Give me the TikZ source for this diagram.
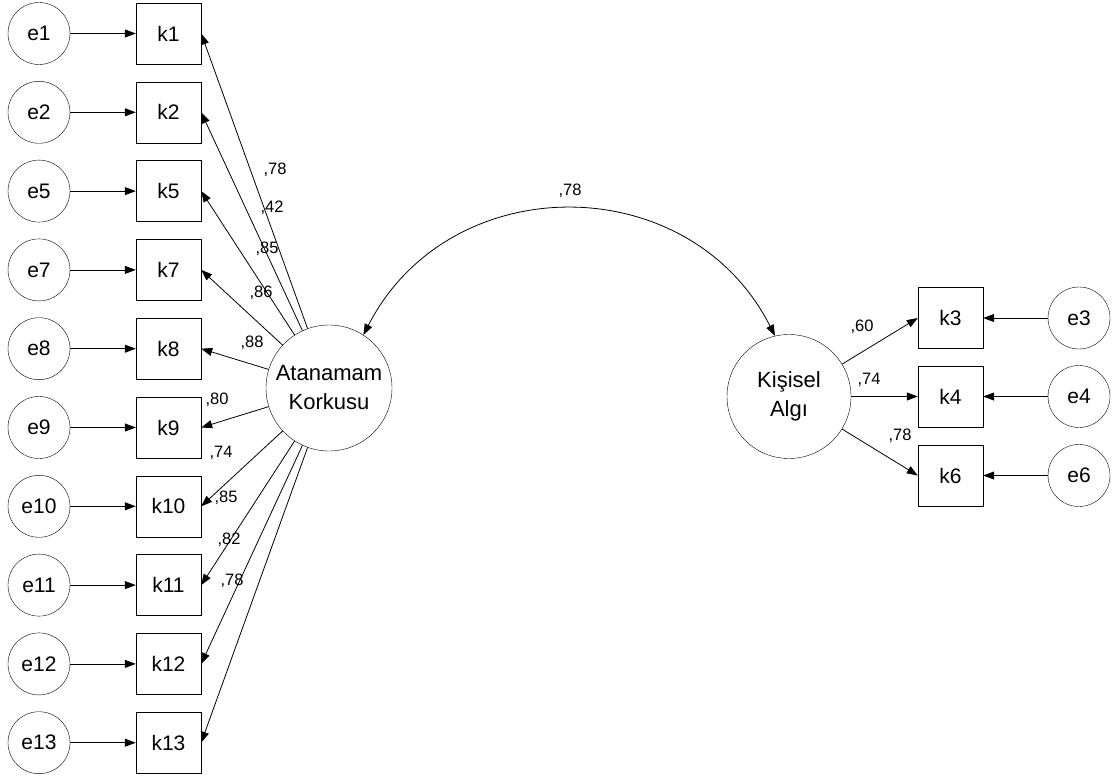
\documentclass[tikz,border=0pt]{standalone}
\usepackage{fontspec}
\setmainfont{Liberation Sans}
\usepackage{tikz}
\usetikzlibrary{arrows.meta}

\tikzset{
    errnode/.style={shape=circle, draw=black, minimum size=62pt, inner sep=0pt, font=\fontsize{21}{25}\selectfont},
    obsnode/.style={shape=rectangle, draw=black, minimum width=65pt, minimum height=61pt, inner sep=0pt, font=\fontsize{21}{25}\selectfont},
    latnode/.style={shape=circle, draw=black, minimum size=126pt, inner sep=0pt, align=center, font=\fontsize{22}{29}\selectfont},
    loadlbl/.style={inner sep=0pt, font=\fontsize{16.5}{18}\selectfont},
    reg/.style={line width=0.8pt, -{Triangle[length=11pt,width=8pt]}},
    cov/.style={line width=0.8pt, {Triangle[length=11pt,width=8pt]}-{Triangle[length=11pt,width=8pt]}}
}

\begin{document}
\begin{tikzpicture}[x=1pt, y=1pt]
            \useasboundingbox (0,0) rectangle (1113,-778);

            % left indicators
            \node[errnode] (e1) at (39, -33.5) {e1};
            \node[errnode] (e2) at (39, -112.3) {e2};
            \node[errnode] (e5) at (39, -191.1) {e5};
            \node[errnode] (e7) at (39, -269.9) {e7};
            \node[errnode] (e8) at (39, -348.7) {e8};
            \node[errnode] (e9) at (39, -427.5) {e9};
            \node[errnode] (e10) at (39, -506.3) {e10};
            \node[errnode] (e11) at (39, -585.1) {e11};
            \node[errnode] (e12) at (39, -663.9) {e12};
            \node[errnode] (e13) at (39, -742.7) {e13};

            \node[obsnode] (k1) at (168.5, -33.5) {k1};
            \node[obsnode] (k2) at (168.5, -112.3) {k2};
            \node[obsnode] (k5) at (168.5, -191.1) {k5};
            \node[obsnode] (k7) at (168.5, -269.9) {k7};
            \node[obsnode] (k8) at (168.5, -348.7) {k8};
            \node[obsnode] (k9) at (168.5, -427.5) {k9};
            \node[obsnode] (k10) at (168.5, -506.3) {k10};
            \node[obsnode] (k11) at (168.5, -585.1) {k11};
            \node[obsnode] (k12) at (168.5, -663.9) {k12};
            \node[obsnode] (k13) at (168.5, -742.7) {k13};

            % right indicators
            \node[obsnode] (k3) at (950.5, -318) {k3};
            \node[obsnode] (k4) at (950.5, -396.5) {k4};
            \node[obsnode] (k6) at (950.5, -475.5) {k6};

            \node[errnode] (e3) at (1079, -318) {e3};
            \node[errnode] (e4) at (1079, -396.5) {e4};
            \node[errnode] (e6) at (1079, -475.5) {e6};

            % latent variables
            \node[latnode] (AK) at (329, -388) {Atanamam\\Korkusu};
            \node[latnode, minimum size=124pt] (KA) at (789, -396.5) {Kişisel\\Algı};

            \path [reg] (e1) edge (k1);
            \path [reg] (e2) edge (k2);
            \path [reg] (e5) edge (k5);
            \path [reg] (e7) edge (k7);
            \path [reg] (e8) edge (k8);
            \path [reg] (e9) edge (k9);
            \path [reg] (e10) edge (k10);
            \path [reg] (e11) edge (k11);
            \path [reg] (e12) edge (k12);
            \path [reg] (e13) edge (k13);

            \path [reg] (AK) edge (k1.east);
            \path [reg] (AK) edge (k2.east);
            \path [reg] (AK) edge (k5.east);
            \path [reg] (AK) edge (k7.east);
            \path [reg] (AK) edge (k8.east);
            \path [reg] (AK) edge (k9.east);
            \path [reg] (AK) edge (k10.east);
            \path [reg] (AK) edge (k11.east);
            \path [reg] (AK) edge (k12.east);
            \path [reg] (AK) edge (k13.east);

            \path [reg] (KA) edge (k3.west);
            \path [reg] (KA) edge (k4.west);
            \path [reg] (KA) edge (k6.west);

            \path [reg] (e3) edge (k3);
            \path [reg] (e4) edge (k4);
            \path [reg] (e6) edge (k6);

            \draw [cov] (AK.57) to[bend left=63, looseness=1.17] (KA.103);

            % loadings
            \node[loadlbl] (l1) at (275, -170) {,78};
            \node[loadlbl] (l2) at (272, -208) {,42};
            \node[loadlbl] (l5) at (267, -249) {,85};
            \node[loadlbl] (l7) at (261, -293) {,86};
            \node[loadlbl] (l8) at (252, -343) {,88};
            \node[loadlbl] (l9) at (217, -400) {,80};
            \node[loadlbl] (l10) at (221, -453) {,74};
            \node[loadlbl] (l11) at (226, -498) {,85};
            \node[loadlbl] (l12) at (229, -540) {,82};
            \node[loadlbl] (l13) at (232, -581) {,78};

            \node[loadlbl] (l3) at (862, -327) {,60};
            \node[loadlbl] (l4) at (869, -380) {,74};
            \node[loadlbl] (l6) at (900, -436) {,78};

            \node[loadlbl] (lc) at (570, -191) {,78};
        \end{tikzpicture}
\end{document}
